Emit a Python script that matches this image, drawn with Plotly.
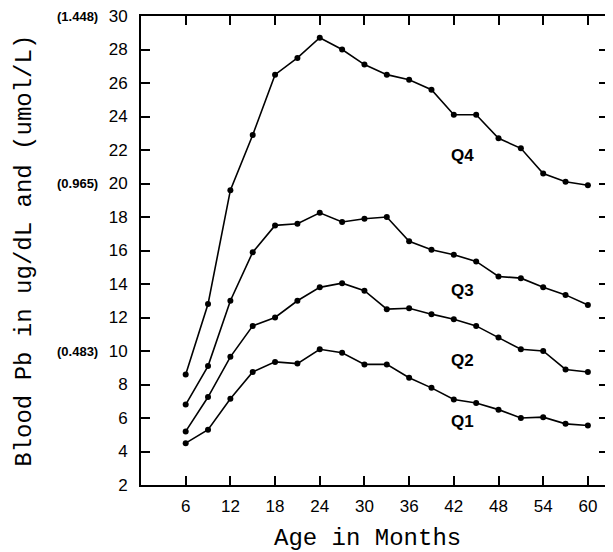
import plotly.graph_objects as go

ages = [6, 9, 12, 15, 18, 21, 24, 27, 30, 33, 36, 39, 42, 45, 48, 51, 54, 57, 60]
q4 = [8.6, 12.8, 19.6, 22.9, 26.5, 27.5, 28.7, 28.0, 27.1, 26.5, 26.2, 25.6, 24.1, 24.1, 22.7, 22.1, 20.6, 20.1, 19.9]
q3 = [6.8, 9.1, 13.0, 15.9, 17.5, 17.6, 18.25, 17.7, 17.9, 18.0, 16.55, 16.05, 15.75, 15.35, 14.45, 14.35, 13.8, 13.35, 12.75]
q2 = [5.2, 7.25, 9.65, 11.5, 12.0, 13.0, 13.8, 14.05, 13.6, 12.5, 12.55, 12.2, 11.9, 11.5, 10.8, 10.1, 10.0, 8.9, 8.75]
q1 = [4.5, 5.3, 7.15, 8.75, 9.35, 9.25, 10.1, 9.9, 9.2, 9.2, 8.4, 7.8, 7.1, 6.9, 6.5, 6.0, 6.05, 5.65, 5.55]
series_names = ["Q4", "Q3", "Q2", "Q1"]
label_pos = [(43.2, 21.7), (43.2, 13.6), (43.2, 9.45), (43.2, 5.8)]
x_ticks = [6, 12, 18, 24, 30, 36, 42, 48, 54, 60]
y_ticks = list(range(2, 31, 2))
umol_vals = [10, 20, 30]
umol_labels = ["(0.483)", "(0.965)", "(1.448)"]

fig = go.Figure()
for name, vals in zip(series_names, [q4, q3, q2, q1]):
    fig.add_trace(go.Scatter(x=ages, y=vals, mode="lines+markers", name=name,
                             line=dict(color="black", width=1.6),
                             marker=dict(color="black", size=6)))

for name, (lx, ly) in zip(series_names, label_pos):
    fig.add_annotation(x=lx, y=ly, text="<b>" + name + "</b>", showarrow=False,
                       font=dict(family="Liberation Sans", size=17, color="black"))

for v, t in zip(umol_vals, umol_labels):
    fig.add_annotation(x=-0.088, xref="paper", y=v, yref="y", text="<b>" + t + "</b>",
                       xanchor="right", showarrow=False,
                       font=dict(family="Liberation Sans", size=13, color="black"))

fig.add_annotation(x=0.486, xref="paper", y=-0.08, yref="paper", yanchor="top",
                   text="Age in Months", showarrow=False,
                   font=dict(family="Liberation Mono", size=24, color="black"))
fig.add_annotation(x=-0.25, xref="paper", y=0.5, yref="paper", xanchor="center",
                   text="Blood Pb in ug/dL and (umol/L)", showarrow=False, textangle=-90,
                   font=dict(family="Liberation Mono", size=24, color="black"))

axis_common = dict(showline=True, linecolor="black", linewidth=2, mirror="ticks",
                   ticks="inside", ticklen=9, tickwidth=1.5, tickcolor="black",
                   showgrid=False, zeroline=False, automargin=False,
                   ticklabeloverflow="allow",
                   tickfont=dict(family="Liberation Sans", size=17, color="black"))

fig.update_xaxes(range=[0, 62.7], tickvals=x_ticks, ticklabelstandoff=5, **axis_common)
fig.update_yaxes(range=[2, 30], tickvals=y_ticks, ticklabelstandoff=8, **axis_common)

fig.update_layout(width=605, height=544, showlegend=False,
                  plot_bgcolor="white", paper_bgcolor="white",
                  margin=dict(l=133, r=5, t=8, b=67))

fig.write_html("out.html")
